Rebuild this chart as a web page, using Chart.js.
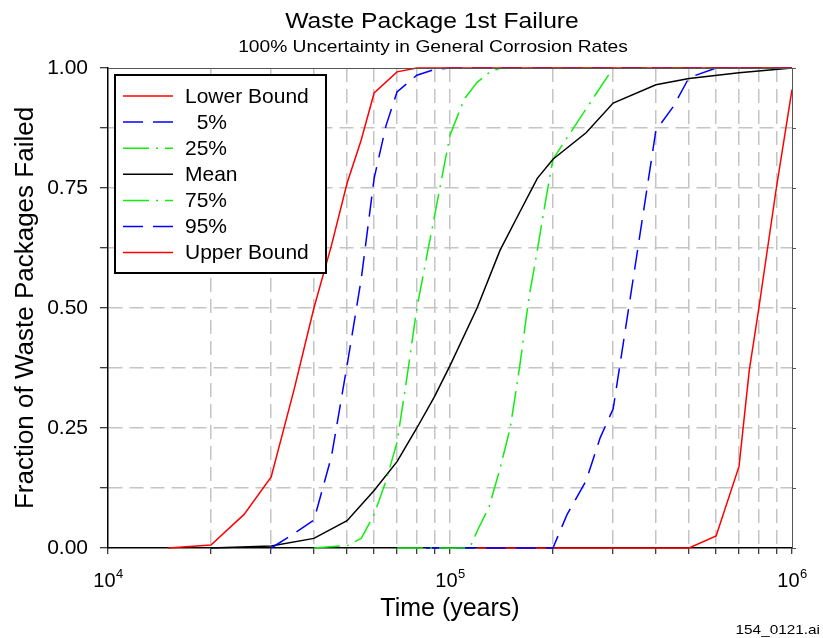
<!DOCTYPE html>
<html>
<head>
<meta charset="utf-8">
<title>Waste Package 1st Failure</title>
<script src="https://cdn.jsdelivr.net/npm/chart.js@4.4.1/dist/chart.umd.min.js"></script>
<style>
  html, body { margin: 0; padding: 0; background: #fff; }
  #wrap { width: 823px; height: 638px; }
</style>
</head>
<body>
<div id="wrap"><canvas id="failureChart" width="823" height="638"></canvas></div>
<script>
// Axis ticks
const xTickValues = [1e4, 2e4, 3e4, 4e4, 5e4, 6e4, 7e4, 8e4, 9e4,
                     1e5, 2e5, 3e5, 4e5, 5e5, 6e5, 7e5, 8e5, 9e5, 1e6];
const xMajorValues = [1e4, 1e5, 1e6];
const xMajorExponents = ['4', '5', '6'];
const yTickValues = [0, 0.125, 0.25, 0.375, 0.5, 0.625, 0.75, 0.875, 1];

// Series: time (years) and fraction of packages failed
const lowerT = [1.5e4, 2e4, 2.5e4, 3e4, 3.5e4, 4e4, 4.5e4, 5e4, 5.5e4, 6e4, 7e4, 8e4, 1e6];
const lowerF = [0, 0.006, 0.07, 0.148, 0.33, 0.5, 0.63, 0.76, 0.85, 0.948, 0.992, 1, 1];

const p5T = [3e4, 3.5e4, 4e4, 4.5e4, 5e4, 5.5e4, 6e4, 6.5e4, 7e4, 8e4, 9e4, 1e5, 1e6];
const p5F = [0, 0.03, 0.058, 0.19, 0.38, 0.56, 0.77, 0.88, 0.95, 0.985, 0.997, 1, 1];

const p25T = [4e4, 5e4, 5.5e4, 6e4, 6.5e4, 7e4, 7.5e4, 8e4, 9e4, 1e5, 1.1e5, 1.2e5, 1.3e5, 1.4e5, 1e6];
const p25F = [0, 0.005, 0.02, 0.07, 0.14, 0.22, 0.36, 0.5, 0.69, 0.86, 0.935, 0.97, 0.99, 1, 1];

const meanT = [2e4, 3e4, 4e4, 5e4, 6e4, 7e4, 8e4, 9e4, 1e5, 1.2e5, 1.4e5, 1.6e5, 1.8e5, 2e5,
               2.5e5, 3e5, 4e5, 5e5, 7e5, 1e6];
const meanF = [0, 0.004, 0.02, 0.057, 0.12, 0.18, 0.25, 0.315, 0.38, 0.5, 0.62, 0.7, 0.77, 0.81,
               0.865, 0.927, 0.965, 0.978, 0.99, 1];

const p75T = [7e4, 1.1e5, 1.15e5, 1.2e5, 1.3e5, 1.4e5, 1.5e5, 1.6e5, 1.7e5, 1.8e5, 1.9e5, 2e5, 2.5e5, 3e5, 1e6];
const p75F = [0, 0, 0.005, 0.035, 0.085, 0.165, 0.25, 0.38, 0.52, 0.62, 0.72, 0.81, 0.915, 1, 1];

const p95T = [8.5e4, 2e5, 2.2e5, 2.5e5, 2.75e5, 3e5, 3.5e5, 4e5, 4.5e5, 5e5, 6e5, 1e6];
const p95F = [0, 0, 0.07, 0.14, 0.23, 0.29, 0.6, 0.87, 0.92, 0.98, 1, 1];

const upperT = [1.2e5, 5e5, 6e5, 7e5, 7.5e5, 8e5, 9e5, 1e6];
const upperF = [0, 0, 0.025, 0.17, 0.37, 0.5, 0.75, 0.955];

const FONT = "'Liberation Sans', Arial, sans-serif";
const RED = '#ff0000';
const BLUE = '#0000ff';
const GREEN = '#10ee10';
const DASH = [20, 10];
const DASH_DOT = [26, 7, 2, 7];

function pairs(ts, fs) {
    return ts.map((t, i) => ({ x: t, y: fs[i] }));
}

function series(label, ts, fs, color, dash) {
    return {
        label: label,
        data: pairs(ts, fs),
        borderColor: color,
        borderWidth: 1.5,
        borderDash: dash,
        pointRadius: 0,
        tension: 0,
        fill: false,
        clip: 4
    };
}

// Draw text stretched horizontally
function wideText(ctx, text, x, y, sx, align) {
    ctx.save();
    ctx.translate(x, y);
    ctx.scale(sx, 1);
    ctx.textAlign = align;
    ctx.fillText(text, 0, 0);
    ctx.restore();
}

const decorations = {
    id: 'decorations',
    afterDraw(chart) {
        const ctx = chart.ctx;
        const area = chart.chartArea;
        const xs = chart.scales.x;
        const ys = chart.scales.y;

        ctx.save();
        // frame top / right
        ctx.strokeStyle = '#555';
        ctx.lineWidth = 1;
        ctx.beginPath();
        ctx.moveTo(area.left, area.top + 0.5);
        ctx.lineTo(area.right + 0.5, area.top + 0.5);
        ctx.lineTo(area.right + 0.5, area.bottom);
        ctx.stroke();
        // right-side ticks
        ctx.beginPath();
        yTickValues.forEach(v => {
            const py = Math.round(ys.getPixelForValue(v)) + 0.5;
            ctx.moveTo(area.right, py);
            ctx.lineTo(area.right + 4, py);
        });
        ctx.stroke();

        // x tick labels 10^n
        ctx.fillStyle = '#000';
        ctx.textBaseline = 'alphabetic';
        xMajorValues.forEach((v, i) => {
            const px = xs.getPixelForValue(v);
            ctx.font = '20px ' + FONT;
            const wBase = ctx.measureText('10').width;
            ctx.font = '13px ' + FONT;
            const wExp = ctx.measureText(xMajorExponents[i]).width;
            const start = px - (wBase + wExp) / 2;
            ctx.textAlign = 'left';
            ctx.font = '20px ' + FONT;
            ctx.fillText('10', start, 587);
            ctx.font = '13px ' + FONT;
            ctx.fillText(xMajorExponents[i], start + wBase + 0.5, 578);
        });

        // titles
        ctx.font = '22px ' + FONT;
        wideText(ctx, 'Waste Package 1st Failure', 432, 28, 1.12, 'center');
        ctx.font = '17px ' + FONT;
        wideText(ctx, '100% Uncertainty in General Corrosion Rates', 433, 52, 1.13, 'center');

        // figure id
        ctx.font = '13px ' + FONT;
        wideText(ctx, '154_0121.ai', 820, 634, 1.18, 'right');

        // legend
        const box = { x: 115, y: 75, w: 211, h: 198 };
        ctx.fillStyle = '#fff';
        ctx.fillRect(box.x, box.y, box.w, box.h);
        ctx.strokeStyle = '#000';
        ctx.lineWidth = 2;
        ctx.setLineDash([]);
        ctx.strokeRect(box.x, box.y, box.w, box.h);
        ctx.font = '21px ' + FONT;
        ctx.textAlign = 'left';
        ctx.textBaseline = 'middle';
        chart.data.datasets.forEach((ds, i) => {
            const cy = 96 + i * 26.1;
            ctx.save();
            ctx.strokeStyle = ds.borderColor;
            ctx.lineWidth = ds.borderWidth;
            ctx.setLineDash(ds.borderDash || []);
            ctx.beginPath();
            ctx.moveTo(123, cy);
            ctx.lineTo(173, cy);
            ctx.stroke();
            ctx.restore();
            ctx.fillStyle = '#000';
            ctx.fillText(ds.label, 185, cy + 1);
        });
        ctx.restore();
    }
};

const ctx = document.getElementById('failureChart').getContext('2d');
const failureChart = new Chart(ctx, {
    type: 'line',
    data: {
        datasets: [
            series('Lower Bound', lowerT, lowerF, RED, []),
            series('  5%', p5T, p5F, BLUE, DASH),
            series('25%', p25T, p25F, GREEN, DASH_DOT),
            series('Mean', meanT, meanF, '#000', []),
            series('75%', p75T, p75F, GREEN, DASH_DOT),
            series('95%', p95T, p95F, BLUE, DASH),
            series('Upper Bound', upperT, upperF, RED, [])
        ]
    },
    options: {
        responsive: false,
        animation: false,
        devicePixelRatio: 1,
        layout: { padding: { top: 68, right: 31, left: 0, bottom: 0 } },
        plugins: {
            legend: { display: false },
            tooltip: { enabled: false },
            title: { display: false }
        },
        scales: {
            x: {
                type: 'logarithmic',
                min: 1e4,
                max: 1e6,
                afterBuildTicks: scale => {
                    scale.ticks = xTickValues.map(v => ({ value: v }));
                },
                afterFit: scale => { scale.height = 90; },
                ticks: { display: false },
                grid: {
                    color: c => (c.tick && (c.tick.value === 1e4 || c.tick.value === 1e6)) ? 'rgba(0,0,0,0)' : '#c4c4c4',
                    lineWidth: 1.5,
                    tickColor: '#000',
                    tickLength: 6,
                    tickWidth: 1
                },
                border: { display: true, color: '#000', width: 1.5, dash: [14, 7] },
                title: {
                    display: true,
                    text: 'Time (years)',
                    color: '#000',
                    font: { family: FONT, size: 25 },
                    padding: { top: 0, bottom: 14 }
                }
            },
            y: {
                min: 0,
                max: 1,
                afterBuildTicks: scale => {
                    scale.ticks = yTickValues.map(v => ({ value: v }));
                },
                afterFit: scale => { scale.width = 108; },
                ticks: {
                    color: '#000',
                    padding: 12,
                    font: { family: FONT, size: 21 },
                    callback: v => (Math.abs(v * 4 - Math.round(v * 4)) < 1e-9) ? v.toFixed(2) : ''
                },
                grid: {
                    color: c => (c.tick && (c.tick.value === 0 || c.tick.value === 1)) ? 'rgba(0,0,0,0)' : '#c4c4c4',
                    lineWidth: 1.5,
                    tickColor: '#000',
                    tickLength: 8,
                    tickWidth: 1
                },
                border: { display: true, color: '#000', width: 1.5, dash: [14, 7] },
                title: {
                    display: true,
                    text: 'Fraction of Waste Packages Failed',
                    color: '#000',
                    font: { family: FONT, size: 26 },
                    padding: { top: 10, bottom: 0 }
                }
            }
        }
    },
    plugins: [decorations]
});
</script>
</body>
</html>
